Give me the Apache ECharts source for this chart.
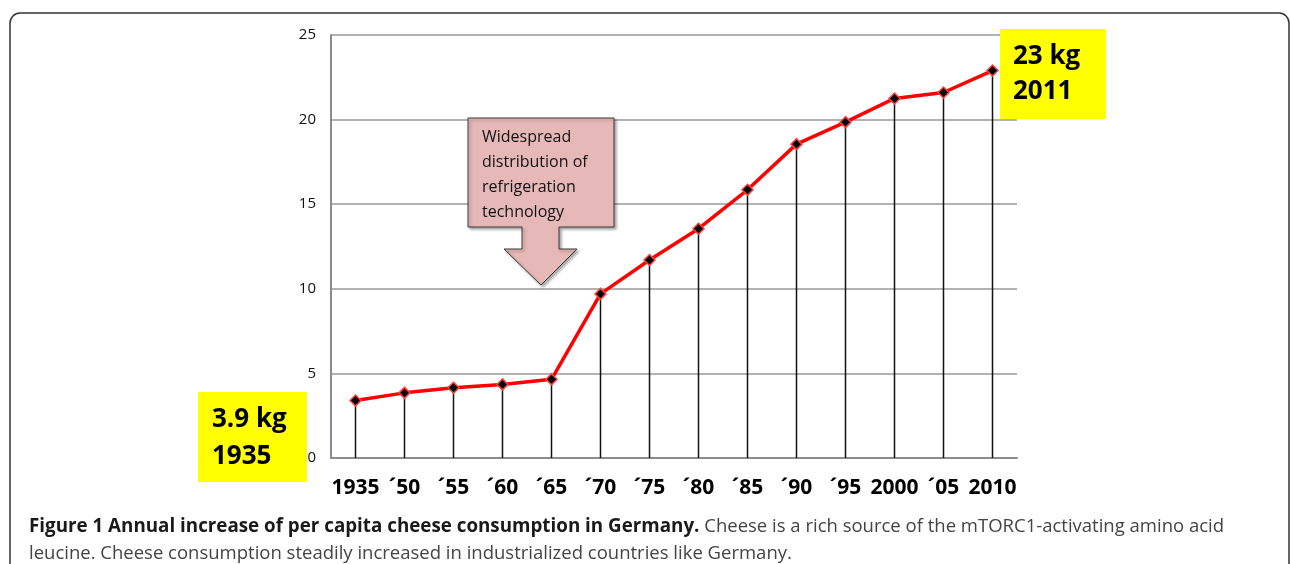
<!DOCTYPE html>
<html>
<head>
<meta charset="utf-8">
<script src="https://cdn.jsdelivr.net/npm/echarts@6/dist/echarts.min.js"></script>
<style>
  html, body { margin: 0; padding: 0; background: #fff; }
  #chart { width: 1290px; height: 564px; }
</style>
</head>
<body>
<div id="chart"></div>
<script>
// years on the x axis (labels as printed)
const years = ["1935", "´50", "´55", "´60", "´65", "´70", "´75", "´80", "´85", "´90", "´95", "2000", "´05", "2010"];
// per capita cheese consumption, kg
const cheeseKg = [3.4, 3.85, 4.15, 4.35, 4.65, 9.7, 11.7, 13.55, 15.85, 18.55, 19.85, 21.25, 21.6, 22.9];

const font = "'Open Sans', 'Noto Sans', sans-serif";

const chart = echarts.init(document.getElementById("chart"));

const option = {
  animation: false,
  backgroundColor: "#fff",
  title: {
    left: 24,
    top: 508,
    text: "{b|Figure 1 Annual increase of per capita cheese consumption in Germany.}{n| Cheese is a rich source of the mTORC1-activating amino acid}\n{n|leucine. Cheese consumption steadily increased in industrialized countries like Germany.}",
    textStyle: {
      fontWeight: "normal",
      rich: {
        b: { fontFamily: font, fontSize: 18.8, fontWeight: "bold", color: "#1a1a1a", lineHeight: 27 },
        n: { fontFamily: font, fontSize: 18.5, fontWeight: "normal", color: "#444", lineHeight: 27 }
      }
    }
  },
  grid: { left: 331, right: 273, top: 35, bottom: 106 },
  xAxis: {
    type: "category",
    data: years,
    boundaryGap: true,
    axisLine: { lineStyle: { color: "#8c8c8c", width: 2 } },
    axisTick: { show: false },
    axisLabel: {
      color: "#000",
      fontFamily: font,
      fontSize: 21,
      fontWeight: "bold",
      margin: 20,
      interval: 0
    }
  },
  yAxis: {
    type: "value",
    min: 0,
    max: 25,
    interval: 5,
    axisLine: { show: true, lineStyle: { color: "#8c8c8c", width: 2 } },
    axisTick: { show: false },
    axisLabel: { color: "#111", fontFamily: font, fontSize: 15, margin: 15 },
    splitLine: { lineStyle: { color: "#999", width: 1.5 } }
  },
  series: [
    {
      // drop lines from each point to the axis
      type: "bar",
      data: cheeseKg,
      barWidth: 1.5,
      silent: true,
      itemStyle: { color: "#111" },
      z: 1
    },
    {
      type: "line",
      data: cheeseKg,
      symbol: "diamond",
      symbolSize: 11,
      lineStyle: { color: "#ff0000", width: 3.5 },
      itemStyle: { color: "#000", borderColor: "#ff4040", borderWidth: 1.5 },
      z: 3
    }
  ],
  graphic: [
    {
      type: "rect",
      shape: { x: 10, y: 13, width: 1279, height: 620, r: 10 },
      style: { fill: null, stroke: "#333", lineWidth: 1.5 },
      silent: true,
      z: 0
    },
    {
      type: "polygon",
      shape: {
        points: [[468, 118], [614, 118], [614, 227], [559, 227], [559, 249], [577, 249],
                 [541, 285], [504, 249], [522, 249], [522, 227], [468, 227]]
      },
      style: {
        fill: "#e6b9b8", stroke: "#3a3a3a", lineWidth: 1,
        shadowBlur: 3, shadowOffsetX: 2, shadowOffsetY: 2, shadowColor: "rgba(0,0,0,0.35)"
      },
      z: 10
    },
    {
      type: "text",
      x: 482, y: 125,
      style: {
        text: "Widespread\ndistribution of\nrefrigeration\ntechnology",
        font: "16px " + font,
        fill: "#111",
        lineHeight: 25,
        verticalAlign: "top"
      },
      z: 11
    },
    {
      type: "rect",
      shape: { x: 198, y: 392, width: 109, height: 90 },
      style: { fill: "#ffff00" },
      z: 10
    },
    {
      type: "text",
      x: 212, y: 401,
      style: {
        text: "3.9 kg\n1935",
        font: "bold 26px " + font,
        fill: "#000",
        lineHeight: 37,
        verticalAlign: "top"
      },
      z: 11
    },
    {
      type: "rect",
      shape: { x: 1000, y: 29, width: 106, height: 90 },
      style: { fill: "#ffff00" },
      z: 10
    },
    {
      type: "text",
      x: 1013, y: 39,
      style: {
        text: "23 kg\n2011",
        font: "bold 26px " + font,
        fill: "#000",
        lineHeight: 35,
        verticalAlign: "top"
      },
      z: 11
    }
  ]
};

chart.setOption(option);
</script>
</body>
</html>
